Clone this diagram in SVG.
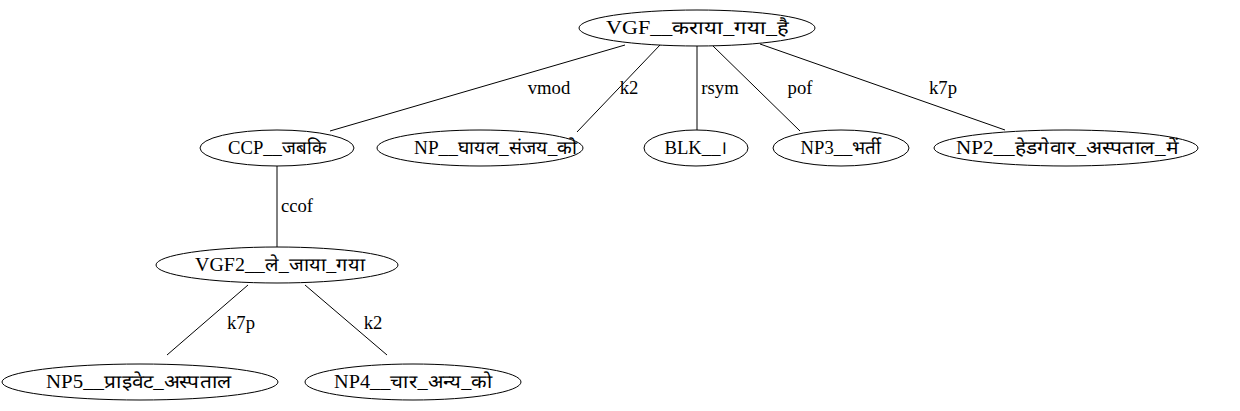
<svg xmlns="http://www.w3.org/2000/svg" width="1240" height="411" viewBox="0 0 1240 411">
<style>
ellipse{fill:none;stroke:#000;stroke-width:1}
line{stroke:#000;stroke-width:1}
text{font-family:"Liberation Serif","DejaVu Serif",serif;font-size:18.67px;fill:#000;text-anchor:middle}
.n{text-anchor:start}
</style>
<rect width="1240" height="411" fill="#fff"/>
<g id="connectors">
<line x1="625" y1="45" x2="330" y2="131"/>
<text x="549" y="94">vmod</text>
<line x1="660" y1="45" x2="577" y2="132"/>
<text x="629" y="94">k2</text>
<line x1="697" y1="46" x2="697" y2="130"/>
<text x="720" y="94">rsym</text>
<line x1="713" y1="46" x2="800" y2="131"/>
<text x="800" y="94">pof</text>
<line x1="760" y1="44" x2="1005" y2="130"/>
<text x="943" y="94">k7p</text>
<line x1="277" y1="166" x2="277" y2="247"/>
<text x="297" y="212">ccof</text>
<line x1="248" y1="285" x2="167" y2="355"/>
<text x="241" y="329">k7p</text>
<line x1="305" y1="285" x2="387" y2="355"/>
<text x="373" y="329">k2</text>
</g>
<g id="n_root"><ellipse cx="697" cy="28" rx="118" ry="18"/><text class="n" x="606" y="34" textLength="183" lengthAdjust="spacingAndGlyphs">VGF__कराया_गया_है</text></g>
<g id="n_ccp"><ellipse cx="277" cy="148" rx="77" ry="18"/><text x="277" y="154">CCP__जबकि</text></g>
<g id="n_np"><ellipse cx="480" cy="148" rx="103" ry="18"/><text class="n" x="414" y="154" textLength="163" lengthAdjust="spacingAndGlyphs">NP__घायल_संजय_को</text></g>
<g id="n_blk"><ellipse cx="696" cy="148" rx="52" ry="18"/><text x="696" y="154">BLK__।</text></g>
<g id="n_np3"><ellipse cx="841" cy="148" rx="68" ry="18"/><text x="841" y="154">NP3__भर्ती</text></g>
<g id="n_np2"><ellipse cx="1066" cy="148" rx="132" ry="18"/><text class="n" x="956" y="154" textLength="222" lengthAdjust="spacingAndGlyphs">NP2__हेडगेवार_अस्पताल_में</text></g>
<g id="n_vgf2"><ellipse cx="277" cy="265" rx="121" ry="18"/><text class="n" x="195" y="271" textLength="170" lengthAdjust="spacingAndGlyphs">VGF2__ले_जाया_गया</text></g>
<g id="n_np5"><ellipse cx="140" cy="382" rx="138" ry="18"/><text class="n" x="46" y="388" textLength="186" lengthAdjust="spacingAndGlyphs">NP5__प्राइवेट_अस्पताल</text></g>
<g id="n_np4"><ellipse cx="413" cy="382" rx="108" ry="18"/><text class="n" x="334" y="388" textLength="158" lengthAdjust="spacingAndGlyphs">NP4__चार_अन्य_को</text></g>
</svg>
